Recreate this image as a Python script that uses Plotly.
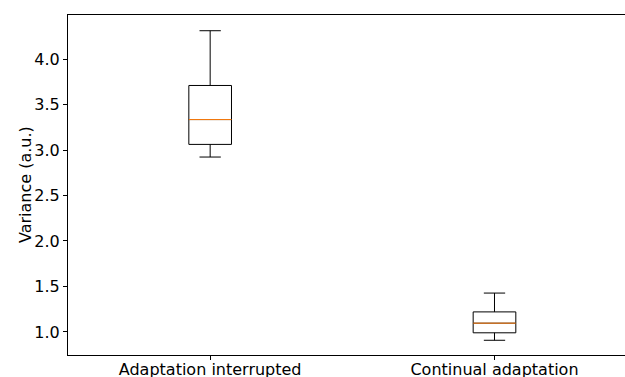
import plotly.graph_objects as go

categories = ["Adaptation interrupted", "Continual adaptation"]
positions = [1, 2]
lower_whisker = [2.923, 0.908]
q1 = [3.062, 0.990]
median = [3.335, 1.096]
q3 = [3.710, 1.220]
upper_whisker = [4.312, 1.427]
y_ticks = [1.0, 1.5, 2.0, 2.5, 3.0, 3.5, 4.0]
y_label = "Variance (a.u.)"
box_width = 0.15

fig = go.Figure()
for i in range(len(categories)):
    fig.add_trace(go.Box(
        x=[positions[i]], q1=[q1[i]], median=[median[i]], q3=[q3[i]],
        lowerfence=[lower_whisker[i]], upperfence=[upper_whisker[i]],
        width=box_width, whiskerwidth=0.5,
        line=dict(color="black", width=1), fillcolor="rgba(0,0,0,0)",
        boxpoints=False, showlegend=False, hoverinfo="skip",
    ))
    fig.add_trace(go.Scatter(
        x=[positions[i] - box_width / 2, positions[i] + box_width / 2],
        y=[median[i], median[i]], mode="lines",
        line=dict(color="#ff7f0e", width=1), showlegend=False, hoverinfo="skip",
    ))

fig.update_layout(
    width=625, height=377,
    margin=dict(l=68, r=0, t=15, b=22),
    plot_bgcolor="white", paper_bgcolor="white",
    font=dict(family="DejaVu Sans", size=16, color="black"),
    annotations=[dict(
        text=y_label, textangle=-90, xref="paper", yref="paper",
        x=0, y=0.5, xanchor="center", yanchor="middle", xshift=-43,
        showarrow=False, font=dict(size=16, color="black"),
    )],
)
fig.update_xaxes(
    range=[0.5, 2.459], tickmode="array", tickvals=positions, ticktext=categories,
    showline=True, linecolor="black", linewidth=1, mirror=True,
    ticks="outside", ticklen=4, tickcolor="black", showgrid=False, zeroline=False,
    ticklabelstandoff=-4, automargin=False,
)
fig.update_yaxes(
    range=[0.746, 4.485], tickmode="array", tickvals=y_ticks,
    ticktext=[f"{v:.1f}" for v in y_ticks],
    showline=True, linecolor="black", linewidth=1, mirror=False,
    ticks="outside", ticklen=4, tickcolor="black", showgrid=False, zeroline=False,
    automargin=False,
)
fig.write_html(
    "out.html",
    config={"displayModeBar": False},
    post_script="document.body.style.margin='0';document.body.style.overflow='hidden';",
)
